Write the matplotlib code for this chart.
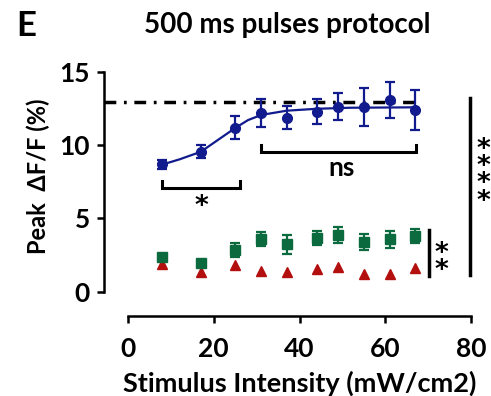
import matplotlib
matplotlib.use("Agg")
import matplotlib.pyplot as plt

plt.rcParams['font.family'] = ['Lato', 'DejaVu Sans']
plt.rcParams['font.weight'] = 'bold'

# stimulus intensities (mW/cm2)
intensity = [8, 17, 25, 31, 37, 44, 49, 55, 61, 67]

# peak dF/F (%) per group
blue_mean = [8.68, 9.54, 11.18, 12.16, 11.86, 12.27, 12.61, 12.61, 13.07, 12.39]
blue_err = [0.3, 0.43, 0.8, 0.95, 0.8, 0.87, 0.93, 1.31, 1.23, 1.36]
green_mean = [2.39, 1.98, 2.84, 3.59, 3.23, 3.64, 3.87, 3.37, 3.57, 3.80]
green_err = [0.2, 0.1, 0.48, 0.49, 0.63, 0.48, 0.55, 0.56, 0.59, 0.48]
red_mean = [1.9, 1.36, 1.82, 1.43, 1.32, 1.57, 1.66, 1.21, 1.21, 1.59]

# sigmoid fit curve
fit_x = [7.7, 12.1, 17.0, 20.7, 24.9, 28.0, 31.1, 37.0, 44.0, 51.7, 67.1]
fit_y = [8.64, 9.03, 9.54, 10.29, 11.14, 11.70, 12.05, 12.34, 12.47, 12.54, 12.57]

ref_level = 12.9

blue = '#121b8e'
green = '#0b6a3e'
red = '#b30f0f'

star_font = dict(family='DejaVu Sans', fontweight='bold', fontsize=19)

fig = plt.figure(figsize=(4.91, 3.96), dpi=100)
ax = fig.add_axes([0.2118, 0.202, 0.7475, 0.617])
ax.set_xlim(-5.6, 80)
ax.set_ylim(-1.66, 15)

# reference level (dash-dot)
ax.plot([-5.6, 67.2], [ref_level, ref_level], color='black', lw=2.5,
        dashes=(3.4, 2.2, 0.8, 2.2), dash_capstyle='butt', zorder=2)

ax.plot(fit_x, fit_y, color=blue, lw=1.6, zorder=3)
ax.errorbar(intensity, blue_mean, yerr=blue_err, fmt='o', color=blue,
            ms=7, elinewidth=1.6, capsize=3.6, capthick=1.6, zorder=4)
ax.errorbar(intensity, green_mean, yerr=green_err, fmt='s', color=green,
            ms=7.5, elinewidth=1.6, capsize=3.3, capthick=1.6, zorder=4)
ax.plot(intensity, red_mean, '^', color=red, ms=7, zorder=3)

# significance brackets
ax.plot([8, 8, 26.1, 26.1], [7.55, 7.05, 7.05, 7.55], color='black', lw=2.2,
        solid_joinstyle='miter')
ax.text(17.2, 6.0, '*', ha='center', va='center_baseline', **star_font)
ax.plot([31.1, 31.1, 67.2, 67.2], [10.0, 9.54, 9.54, 10.0], color='black', lw=2.2,
        solid_joinstyle='miter')
ax.text(49.9, 8.4, 'ns', ha='center', va='center', fontsize=19)

ax.plot([79.8, 79.8], [1.14, 13.18], color='black', lw=2.5, clip_on=False)
ax.text(83, 7.9, '*\n*\n*\n*', ha='center', va='center', linespacing=0.56,
        clip_on=False, **star_font)
ax.plot([70.1, 70.1], [1.07, 4.2], color='black', lw=2.5, clip_on=False)
ax.text(73, 2.0, '*\n*', ha='center', va='center', linespacing=0.56,
        clip_on=False, **star_font)

# axes styling
for s in ['top', 'right']:
    ax.spines[s].set_visible(False)
ax.spines['left'].set_bounds(0, 15)
ax.spines['bottom'].set_bounds(0, 80)
ax.spines['left'].set_linewidth(1.8)
ax.spines['bottom'].set_linewidth(1.8)
ax.set_xticks([0, 20, 40, 60, 80])
ax.set_yticks([0, 5, 10, 15])
ax.tick_params(width=1.8, length=5, labelsize=19)
ax.tick_params(axis='x', pad=10)
ax.tick_params(axis='y', pad=5)
for lab in ax.get_xticklabels() + ax.get_yticklabels():
    lab.set_fontweight('bold')

ax.set_xlabel('Stimulus Intensity (mW/cm2)', fontsize=19.5, fontweight='bold')
ax.xaxis.set_label_coords(0.534, -0.222)
ax.set_ylabel('Peak  ΔF/F (%)', fontsize=17, fontweight='bold')
ax.yaxis.set_label_coords(-0.147, 0.573)

fig.text(0.586, 0.937, '500 ms pulses protocol', ha='center', va='center',
         fontsize=20, fontweight='bold')
fig.text(0.053, 0.934, 'E', ha='center', va='center', fontsize=25, fontweight='bold')

fig.savefig('out.png', dpi=100)
